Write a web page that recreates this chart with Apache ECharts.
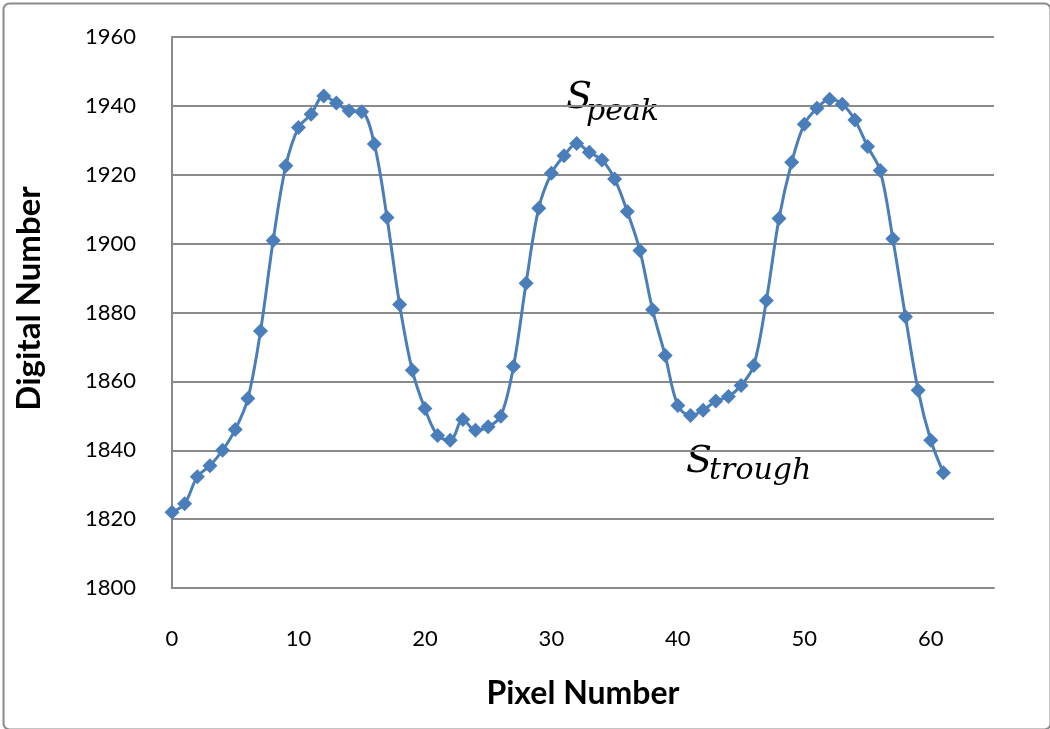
<!DOCTYPE html>
<html>
<head>
<meta charset="utf-8">
<script src="https://cdn.jsdelivr.net/npm/echarts@6/dist/echarts.min.js"></script>
<style>
html,body{margin:0;padding:0;background:#fff;}
#chart{width:1050px;height:729px;}
</style>
</head>
<body>
<div id="chart"></div>
<script>
// Data
const pixelNumbers = [0,1,2,3,4,5,6,7,8,9,10,11,12,13,14,15,16,17,18,19,20,21,22,23,24,25,26,27,28,29,30,31,32,33,34,35,36,37,38,39,40,41,42,43,44,45,46,47,48,49,50,51,52,53,54,55,56,57,58,59,60,61];
const digitalNumbers = [1822,1824.5,1832.3,1835.5,1840,1846,1855,1874.6,1900.9,1922.6,1933.7,1937.6,1942.9,1940.8,1938.6,1938.3,1928.9,1907.6,1882.3,1863.2,1852.1,1844.3,1842.9,1848.9,1845.8,1846.8,1849.9,1864.3,1888.5,1910.3,1920.4,1925.5,1929.1,1926.5,1924.3,1918.8,1909.3,1898,1880.8,1867.5,1853,1850.1,1851.6,1854.3,1855.6,1858.8,1864.6,1883.5,1907.3,1923.6,1934.7,1939.3,1941.9,1940.5,1935.9,1928.2,1921.2,1901.4,1878.8,1857.4,1842.9,1833.5];
const xTickLabels = ['0','10','20','30','40','50','60'];
const yTickLabels = ['1800','1820','1840','1860','1880','1900','1920','1940','1960'];
const xTitle = 'Pixel Number';
const yTitle = 'Digital Number';

const points = pixelNumbers.map((x, i) => [x, digitalNumbers[i]]);
const gridColor = '#8a8a8a';
const blue = '#4A7EBB';

const chart = echarts.init(document.getElementById('chart'));
chart.setOption({
  animation: false,
  backgroundColor: '#ffffff',
  grid: {left: 172, right: 56, top: 37, bottom: 141, containLabel: false},
  xAxis: {
    type: 'value', min: 0, max: 65, interval: 10,
    name: xTitle, nameLocation: 'middle', nameGap: 90,
    nameTextStyle: {fontFamily: 'Lato', fontWeight: 'bold', fontSize: 32, color: '#000'},
    axisLine: {show: true, onZero: false, lineStyle: {color: gridColor, width: 2}},
    axisTick: {show: false},
    splitLine: {show: false},
    axisLabel: {
      margin: 40, fontFamily: 'Lato', fontSize: 22, color: '#000', showMaxLabel: false,
      formatter: v => xTickLabels.includes(String(v)) ? String(v) : ''
    }
  },
  yAxis: {
    type: 'value', min: 1800, max: 1960, interval: 20,
    name: yTitle, nameLocation: 'middle', nameGap: 126, nameRotate: 90,
    nameTextStyle: {fontFamily: 'Lato', fontWeight: 'bold', fontSize: 33, color: '#000', padding: [0, 0, 0, 28]},
    axisLine: {show: true, lineStyle: {color: gridColor, width: 2}},
    axisTick: {show: false},
    splitLine: {show: true, lineStyle: {color: gridColor, width: 2}},
    axisLabel: {
      margin: 36, fontFamily: 'Lato', fontSize: 22, color: '#000',
      formatter: v => yTickLabels.includes(String(v)) ? String(v) : ''
    }
  },
  series: [{
    type: 'line',
    data: points,
    smooth: 0.35,
    symbol: 'diamond',
    symbolSize: 15,
    lineStyle: {color: blue, width: 3},
    itemStyle: {color: blue, borderWidth: 0}
  }],
  graphic: [
    {type: 'rect', left: 1, top: 1, shape: {x: 0, y: 0, width: 1047, height: 726, r: 6},
     style: {fill: 'none', stroke: '#8a8a8a', lineWidth: 2}, silent: true, z: 100},
    {type: 'text', x: 566, y: 79, style: {text: 'S', font: 'italic 38px "DejaVu Serif"', fill: '#000'}},
    {type: 'text', x: 586, y: 97, style: {text: 'peak', font: 'italic 30px "DejaVu Serif"', fill: '#000'}},
    {type: 'text', x: 686, y: 443, style: {text: 'S', font: 'italic 38px "DejaVu Serif"', fill: '#000'}},
    {type: 'text', x: 709, y: 456, style: {text: 'trough', font: 'italic 30px "DejaVu Serif"', fill: '#000'}}
  ]
});
</script>
</body>
</html>
